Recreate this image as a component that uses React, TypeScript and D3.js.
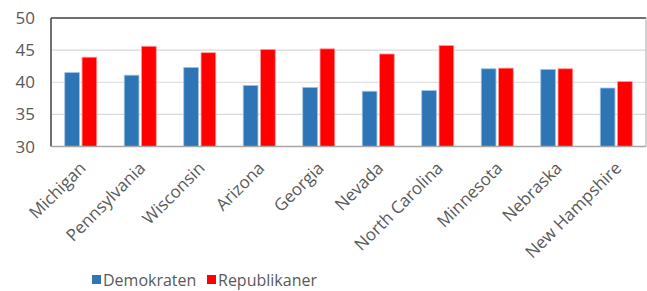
import React from "react";
import * as d3 from "d3";

const categories = ["Michigan", "Pennsylvania", "Wisconsin", "Arizona", "Georgia", "Nevada", "North Carolina", "Minnesota", "Nebraska", "New Hampshire"];
const demokraten = [41.5, 41.1, 42.3, 39.5, 39.2, 38.6, 38.7, 42.1, 42.0, 39.1];
const republikaner = [43.9, 45.6, 44.6, 45.1, 45.2, 44.4, 45.7, 42.2, 42.1, 40.1];
const yTicks = [30, 35, 40, 45, 50];
const seriesNames = ["Demokraten", "Republikaner"];

const W = 647, H = 291;
const left = 51, right = 646, top = 18, bottom = 146.5;
const FONT = "'Open Sans', sans-serif";
const TXT = "#595959";

export default function App() {
  const x = d3.scaleBand().domain(categories).range([left, right]).paddingInner(0).paddingOuter(0);
  const y = d3.scaleLinear().domain([30, 50]).range([bottom, top]);
  const inner = d3.scaleBand().domain(seriesNames).range([-16, 16]).paddingInner(0.15);
  const fills = ["#2E75B6", "#FF0000"];
  const strokes = ["#9DC3E6", "#FF9999"];
  const series = [demokraten, republikaner];

  return (
    <svg width={W} height={H} style={{ position: "absolute", left: 0, top: 0 }}>
      {yTicks.map((t) => (
        <g key={t}>
          {t !== 30 && t !== 50 && (
            <line x1={left} x2={right} y1={y(t)} y2={y(t)} stroke="#D9D9D9" strokeWidth={1.2} />
          )}
          <text x={35} y={y(t)} dy="0.36em" textAnchor="end" fontFamily={FONT} fontSize={17} fill={TXT}>
            {t}
          </text>
        </g>
      ))}
      {categories.map((c, i) => {
        const cx = x(c)! + x.bandwidth() / 2;
        return (
          <g key={c}>
            {series.map((s, j) => (
              <rect
                key={j}
                x={cx + inner(seriesNames[j])!}
                y={y(s[i])}
                width={inner.bandwidth()}
                height={bottom - y(s[i])}
                fill={fills[j]}
                stroke={strokes[j]}
                strokeWidth={0.8}
              />
            ))}
            <text
              transform={`translate(${cx + 2},${165}) rotate(-45)`}
              textAnchor="end"
              dy="0.35em"
              fontFamily={FONT}
              fontSize={17}
              fill={TXT}
            >
              {c}
            </text>
          </g>
        );
      })}
      <line x1={left} x2={right} y1={top} y2={top} stroke="#404040" strokeWidth={1.5} />
      <line x1={left} x2={left} y1={top} y2={bottom} stroke="#404040" strokeWidth={1.5} />
      <line x1={right} x2={right} y1={top} y2={bottom} stroke="#A6A6A6" strokeWidth={1} />
      <line x1={left} x2={right} y1={bottom} y2={bottom} stroke="#A6A6A6" strokeWidth={1.5} />
      {seriesNames.map((n, j) => {
        const lx = [92, 207][j];
        return (
          <g key={n}>
            <rect x={lx} y={275} width={9} height={9} fill={fills[j]} />
            <text x={lx + 11} y={280} dy="0.36em" fontFamily={FONT} fontSize={16} fill={TXT}>
              {n}
            </text>
          </g>
        );
      })}
    </svg>
  );
}
